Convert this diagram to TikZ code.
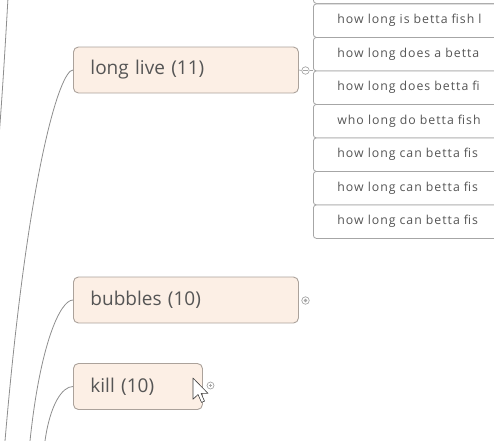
\documentclass[tikz,border=0pt]{standalone}
\usepackage{fontspec}
\setmainfont{Open Sans}
\newfontfamily\listfont[LetterSpace=8]{Open Sans}
\definecolor{boxfill}{HTML}{FCEFE5}
\definecolor{boxline}{HTML}{ABA29B}
\definecolor{txt}{HTML}{555555}
\definecolor{conn}{HTML}{8E8E8E}
\definecolor{listline}{HTML}{A6A6A6}
\begin{document}
\begin{tikzpicture}[x=1pt,y=-1pt,
  topic/.style={draw=boxline, fill=boxfill, rounded corners=5pt, line width=0.9pt,
    text=txt, font=\fontsize{19}{21}\selectfont, anchor=west, inner xsep=0pt,
    minimum height=46pt, align=left},
  item/.style={draw=listline, fill=white, rounded corners=3pt, line width=0.8pt,
    text=txt, font=\listfont\fontsize{12.3}{14}\selectfont, anchor=north west,
    minimum height=33.5pt, minimum width=320pt, text width=320pt, inner xsep=0pt, align=left},
  conn/.style={draw=conn, line width=0.8pt},
  knob/.style={circle, draw=listline, fill=white, line width=0.7pt, minimum size=7.5pt, inner sep=0pt}]
\useasboundingbox (0,0) rectangle (494,440);
\clip (0,0) rectangle (494,440);
% far connector
\coordinate (farA) at (8,-2);
\coordinate (farB) at (-2,150);
\draw[conn] (farA) .. controls (5,50) and (2,100) .. (farB);
% list items
\node[item] (i0) at (313,-30.5) {};
\node[item] (i1) at (313,3.5) {\hspace*{24pt}how long is betta fish l};
\node[item] (i2) at (313,37) {\hspace*{24pt}how long does a betta};
\node[item] (i3) at (313,70.5) {\hspace*{24pt}how long does betta fi};
\node[item] (i4) at (313,104) {\hspace*{24pt}who long do betta fish};
\node[item] (i5) at (313,137.5) {\hspace*{24pt}how long can betta fis};
\node[item] (i6) at (313,171) {\hspace*{24pt}how long can betta fis};
\node[item] (i7) at (313,204.5) {\hspace*{24pt}how long can betta fis};
% topics
\node[topic, minimum width=225pt, text width=225pt] (ll) at (73,70) {\hspace*{17pt}long live (11)};
\node[topic, minimum width=225pt, text width=225pt] (bb) at (73,300) {\hspace*{17pt}bubbles (10)};
\node[topic, minimum width=129pt, text width=129pt] (kl) at (73,386.5) {\hspace*{17pt}kill (10)};
% knobs
\node[knob] (k1) at (305.5,70.5) {};
\draw[listline, line width=0.8pt] (303.3,70.5) -- (307.7,70.5);
\draw[listline, line width=0.7pt] (ll.east) -- (k1.west);
\draw[listline, line width=0.7pt] (k1.east) -- (313,70.5);
\node[knob] (k2) at (305.5,300.5) {};
\fill[listline] (k2) circle (1.8pt);
\node[knob, minimum size=7pt] (k3) at (210.5,385.5) {};
\draw[listline, line width=0.6pt] (208.7,385.5) -- (212.3,385.5) (210.5,383.7) -- (210.5,387.3);
% connectors
\coordinate (endB) at (5,441);
\coordinate (endC) at (30,441);
\coordinate (endD) at (45,441);
\draw[conn] (ll.west) .. controls (60,70) and (28,170) .. (endB);
\draw[conn] (bb.west) .. controls (60,300) and (40,345) .. (endC);
\draw[conn] (kl.west) .. controls (62,386.5) and (50,405) .. (endD);
% cursor
\begin{scope}[shift={(193,378)}, scale=1.25]
\draw[fill=white, draw=black!75, line width=0.6pt, line join=round]
  (0,0) -- (0,17) -- (4,13.2) -- (6.8,19.5) -- (9.2,18.5) -- (6.5,12.3) -- (12,12.3) -- cycle;
\end{scope}
\end{tikzpicture}
\end{document}
